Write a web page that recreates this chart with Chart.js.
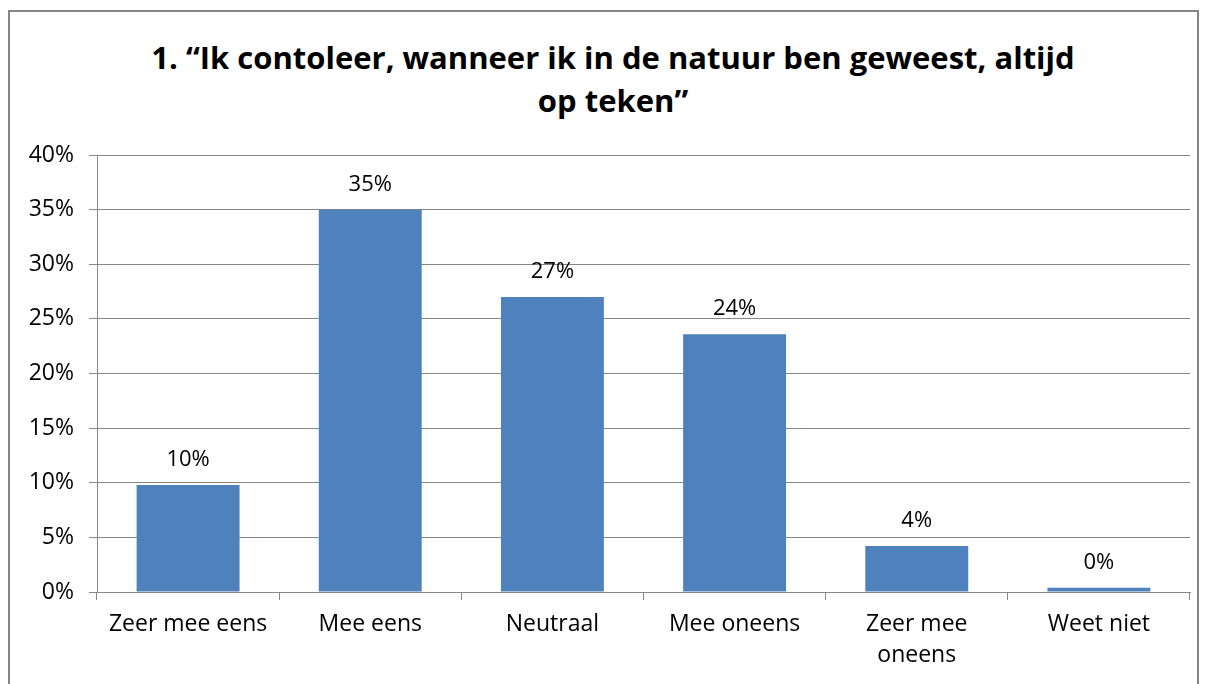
<!DOCTYPE html>
<html>
<head>
<meta charset="utf-8">
<script src="https://cdn.jsdelivr.net/npm/chart.js@4"></script>
<style>
  html, body { margin: 0; padding: 0; background: #fff; }
  body { width: 1208px; height: 684px; position: relative; overflow: hidden; }
  #frame { position: absolute; left: 8px; top: 10px; width: 1191px; height: 700px; border: 2px solid #868686; box-sizing: border-box; }
  #title { position: absolute; left: 0; top: 36px; width: 1226px; text-align: center; font: bold 31px/43px 'Open Sans', sans-serif; color: #000; }
  #chart { position: absolute; left: 0; top: 0; }
</style>
</head>
<body>
<div id="frame"></div>
<div id="title"></div>
<canvas id="chart" width="1208" height="684"></canvas>
<script>
const categories = ['Zeer mee eens', 'Mee eens', 'Neutraal', 'Mee oneens', ['Zeer mee', 'oneens'], 'Weet niet'];
const percentages = [9.8, 35.0, 27.0, 23.6, 4.2, 0.4];
const titleLines = ['1. \u201cIk contoleer, wanneer ik in de natuur ben geweest, altijd', 'op teken\u201d'];
const yTicks = { min: 0, max: 40, step: 5 };

const fontFamily = "'Open Sans', sans-serif";
const gridColor = '#868686';

// title sits a little right of the canvas centre in the original, so it lives in the page
const titleEl = document.getElementById('title');
titleLines.forEach((line, i) => {
  if (i > 0) titleEl.appendChild(document.createElement('br'));
  titleEl.appendChild(document.createTextNode(line));
});

// labels above each bar, like the spreadsheet data labels
const barValueLabels = {
  id: 'barValueLabels',
  afterDatasetsDraw(chart) {
    const ctx = chart.ctx;
    const meta = chart.getDatasetMeta(0);
    ctx.save();
    ctx.font = '22px ' + fontFamily;
    ctx.fillStyle = '#000';
    ctx.textAlign = 'center';
    ctx.textBaseline = 'middle';
    meta.data.forEach((bar, i) => {
      ctx.fillText(Math.round(percentages[i]) + '%', bar.x, bar.y - 25);
    });
    ctx.restore();
  }
};

new Chart(document.getElementById('chart').getContext('2d'), {
  type: 'bar',
  data: {
    labels: categories,
    datasets: [{
      data: percentages,
      backgroundColor: '#4F81BD',
      borderWidth: 0,
      barPercentage: 1,
      categoryPercentage: 0.565
    }]
  },
  options: {
    responsive: false,
    animation: false,
    layout: { padding: { top: 155, right: 18, bottom: 0, left: 0 } },
    plugins: {
      legend: { display: false },
      tooltip: { enabled: false },
      title: { display: false }
    },
    scales: {
      x: {
        grid: { drawOnChartArea: false, drawTicks: true, tickLength: 8, color: gridColor, offset: true },
        border: { color: gridColor, width: 1 },
        ticks: { color: '#000', font: { family: fontFamily, size: 23, lineHeight: 1.35 }, padding: 9, maxRotation: 0, autoSkip: false },
        afterFit(scale) { scale.height = 92; }
      },
      y: {
        min: yTicks.min,
        max: yTicks.max,
        grid: { color: gridColor, tickLength: 8 },
        border: { color: gridColor, width: 1 },
        ticks: {
          stepSize: yTicks.step,
          color: '#000',
          font: { family: fontFamily, size: 23 },
          padding: 15,
          callback: v => v + '%'
        },
        afterFit(scale) { scale.width = 97; }
      }
    }
  },
  plugins: [barValueLabels]
});
</script>
</body>
</html>
